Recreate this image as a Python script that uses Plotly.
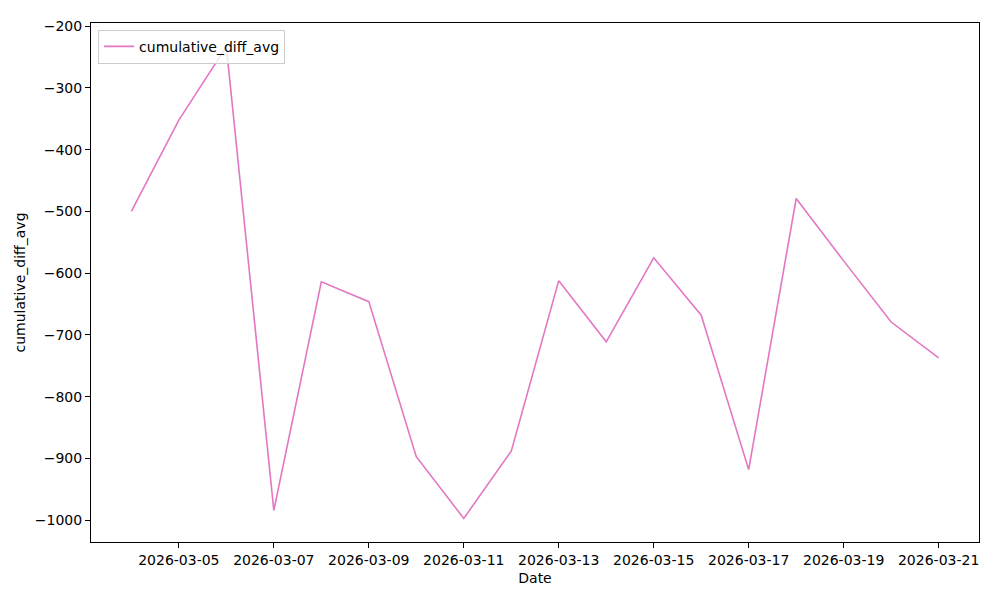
import plotly.graph_objects as go
import pandas as pd

dates = pd.date_range("2026-03-04", "2026-03-21", freq="D").strftime("%Y-%m-%d").tolist()
values = [-500, -352, -233, -984, -614, -646, -897, -997, -888, -612,
          -711, -575, -668, -918, -479, -580, -679, -737]
x_ticks = ["2026-03-05", "2026-03-07", "2026-03-09", "2026-03-11", "2026-03-13",
           "2026-03-15", "2026-03-17", "2026-03-19", "2026-03-21"]
y_ticks = [-1000, -900, -800, -700, -600, -500, -400, -300, -200]

fig = go.Figure()
fig.add_trace(go.Scatter(x=dates, y=values, mode="lines", name="cumulative_diff_avg",
                         line=dict(color="#e377c2", width=1.6)))

font = dict(family="DejaVu Sans", size=14, color="black")
fig.update_layout(
    width=992, height=592,
    margin=dict(l=83, r=21, t=10, b=58),
    paper_bgcolor="white", plot_bgcolor="white",
    font=font,
    showlegend=True,
    legend=dict(x=0.008, y=0.987, xanchor="left", yanchor="top",
                bordercolor="#cccccc", borderwidth=1, bgcolor="rgba(255,255,255,0.8)",
                font=dict(family="DejaVu Sans", size=14)),
    xaxis=dict(
        type="date",
        range=["2026-03-03 03:36", "2026-03-21 20:24"],
        tickvals=x_ticks, ticktext=x_ticks,
        showgrid=False, zeroline=False,
        showline=True, linecolor="black", linewidth=1, mirror=True,
        ticks="outside", ticklen=5, tickcolor="black",
        title=dict(text="Date", font=font, standoff=6),
    ),
    yaxis=dict(
        range=[-1035.2, -194.8],
        tickvals=y_ticks, ticktext=["\u2212" + str(abs(v)) for v in y_ticks],
        showgrid=False, zeroline=False,
        showline=True, linecolor="black", linewidth=1, mirror=True,
        ticks="outside", ticklen=5, tickcolor="black",
        title=dict(text="cumulative_diff_avg", font=font, standoff=5),
    ),
)
fig.write_html("out.html")
